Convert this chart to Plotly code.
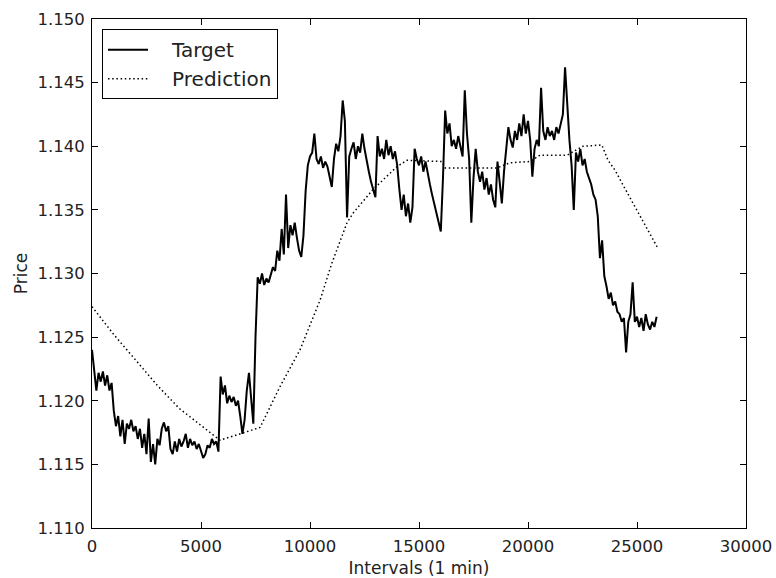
import plotly.graph_objects as go

# Target series: one reading every 100 intervals (0 .. 25900)
TARGET_STEP = 100
target = [
    1.1240, 1.1225, 1.1208, 1.1222, 1.1215, 1.1223, 1.1212, 1.1220, 1.1208, 1.1214,
    1.1192, 1.1180, 1.1188, 1.1172, 1.1185, 1.1166, 1.1182, 1.1178, 1.1185, 1.1176,
    1.1180, 1.1170, 1.1178, 1.1163, 1.1174, 1.1158, 1.1186, 1.1152, 1.1166, 1.1150,
    1.1170, 1.1165, 1.1178, 1.1183, 1.1176, 1.1180, 1.1162, 1.1158, 1.1168, 1.1160,
    1.1170, 1.1164, 1.1168, 1.1174, 1.1163, 1.1170, 1.1165, 1.1168, 1.1162, 1.1166,
    1.1160, 1.1155, 1.1158, 1.1165, 1.1163, 1.1170, 1.1166, 1.1168, 1.1160, 1.1219,
    1.1205, 1.1212, 1.1198, 1.1204, 1.1199, 1.1203, 1.1196, 1.1200, 1.1188, 1.1174,
    1.1185, 1.1208, 1.1222, 1.1203, 1.1182, 1.1250, 1.1297, 1.1292, 1.1300, 1.1291,
    1.1296, 1.1293, 1.1299, 1.1305, 1.1302, 1.1318, 1.1310, 1.1335, 1.1315, 1.1362,
    1.1320, 1.1338, 1.1330, 1.1340, 1.1328, 1.1318, 1.1313, 1.1330, 1.1365, 1.1385,
    1.1392, 1.1395, 1.1410, 1.1390, 1.1386, 1.1392, 1.1383, 1.1388, 1.1384, 1.1376,
    1.1368, 1.1390, 1.1402, 1.1396, 1.1408, 1.1436, 1.1420, 1.1344, 1.1392, 1.1398,
    1.1403, 1.1390, 1.1400, 1.1395, 1.1410, 1.1398, 1.1388, 1.1380, 1.1372, 1.1365,
    1.1360, 1.1408, 1.1392, 1.1398, 1.1390, 1.1405, 1.1393, 1.1400, 1.1390, 1.1396,
    1.1385, 1.1366, 1.1350, 1.1362, 1.1345, 1.1355, 1.1340, 1.1352, 1.1398, 1.1390,
    1.1385, 1.1392, 1.1380, 1.1388, 1.1378, 1.1370, 1.1362, 1.1355, 1.1348, 1.1340,
    1.1333, 1.1375, 1.1428, 1.1410, 1.1418, 1.1400, 1.1405, 1.1398, 1.1408, 1.1400,
    1.1392, 1.1444, 1.1410, 1.1390, 1.1340, 1.1375, 1.1398, 1.1380, 1.1372, 1.1380,
    1.1366, 1.1375, 1.1362, 1.1370, 1.1358, 1.1352, 1.1388, 1.1372, 1.1355, 1.1380,
    1.1400, 1.1415, 1.1405, 1.1399, 1.1412, 1.1405, 1.1418, 1.1408, 1.1425, 1.1410,
    1.1420, 1.1405, 1.1376, 1.1398, 1.1405, 1.1400, 1.1446, 1.1412, 1.1405, 1.1415,
    1.1408, 1.1412, 1.1405, 1.1415, 1.1410, 1.1418, 1.1425, 1.1462, 1.1430, 1.1405,
    1.1385, 1.1350, 1.1395, 1.1388, 1.1398, 1.1385, 1.1390, 1.1380, 1.1375, 1.1370,
    1.1362, 1.1358, 1.1345, 1.1312, 1.1326, 1.1298, 1.1290, 1.1280, 1.1285, 1.1275,
    1.1278, 1.1270, 1.1268, 1.1262, 1.1265, 1.1238, 1.1262, 1.1268, 1.1293, 1.1262,
    1.1266, 1.1258, 1.1265, 1.1255, 1.1268, 1.1260, 1.1256, 1.1262, 1.1258, 1.1266,
]
target_x = [i * TARGET_STEP for i in range(len(target))]

# Prediction series, read at these intervals
prediction_x = [0, 1000, 2000, 3000, 4000, 5000, 5870, 7710, 8620, 9540, 10460,
                11000, 11700, 12000, 12890, 13990, 14450, 16050, 16200, 17250,
                18580, 19170, 20090, 20550, 21790, 22520, 23070, 23390, 23670,
                24000, 24310, 24910, 25500, 25920]
prediction = [1.1274, 1.1252, 1.1232, 1.1212, 1.1194, 1.1181, 1.1169, 1.1179, 1.1211,
              1.1240, 1.1279, 1.1308, 1.1340, 1.1348, 1.1366, 1.1384, 1.1389, 1.1388,
              1.1383, 1.1383, 1.1383, 1.1387, 1.1388, 1.1393, 1.1393, 1.1400, 1.1401,
              1.1401, 1.1389, 1.1381, 1.1371, 1.1352, 1.1334, 1.1321]

x_ticks = [0, 5000, 10000, 15000, 20000, 25000, 30000]
y_ticks = [1.110, 1.115, 1.120, 1.125, 1.130, 1.135, 1.140, 1.145, 1.150]

FONT = "DejaVu Sans"
TXT = "#222"

fig = go.Figure()
fig.add_trace(go.Scatter(x=target_x, y=target, mode="lines", name="\u00a0\u00a0\u00a0Target",
                         line=dict(color="black", width=2)))
fig.add_trace(go.Scatter(x=prediction_x, y=prediction, mode="lines", name="\u00a0\u00a0\u00a0Prediction",
                         line=dict(color="black", width=1.5, dash="1.5px,2.7px")))

axis_common = dict(
    showgrid=False, zeroline=False, showline=True, linecolor="black", linewidth=1,
    mirror="ticks", ticks="inside", ticklen=6, tickwidth=1, tickcolor="black",
    tickfont=dict(family=FONT, size=16.5, color=TXT), automargin=False,
    ticklabelstandoff=3,
)
fig.update_xaxes(range=[0, 30000], tickvals=x_ticks,
                 ticktext=[str(v) for v in x_ticks],
                 title=dict(text="Intervals (1 min)", font=dict(family=FONT, size=17, color=TXT), standoff=10),
                 **axis_common)
fig.update_yaxes(range=[1.110, 1.150], tickvals=y_ticks,
                 ticktext=[f"{v:.3f}" for v in y_ticks],
                 title=dict(text="Price", font=dict(family=FONT, size=17, color=TXT), standoff=5),
                 **axis_common)

fig.update_layout(
    width=776, height=578,
    margin=dict(l=92, r=30, t=19, b=50),
    paper_bgcolor="white", plot_bgcolor="white",
    font=dict(family=FONT, color=TXT),
    showlegend=True,
    legend=dict(x=0.0153, y=0.98, xanchor="left", yanchor="top",
                bordercolor="black", borderwidth=1, bgcolor="white",
                itemwidth=40,
                font=dict(family=FONT, size=20, color=TXT)),
)

fig.write_html("out.html")
